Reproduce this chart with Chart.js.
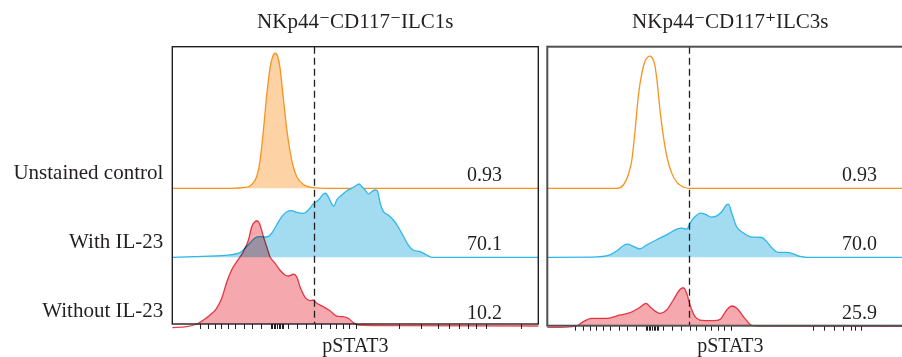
<!DOCTYPE html>
<html>
<head>
<meta charset="utf-8">
<script src="https://cdn.jsdelivr.net/npm/chart.js@4.4.1/dist/chart.umd.min.js"></script>
<style>
  html, body { margin: 0; padding: 0; background: #fff; }
  body { width: 902px; height: 357px; overflow: hidden; position: relative; }
  #ilc1 { position: absolute; left: 0; top: 0; }
  #ilc3 { position: absolute; left: 540px; top: 0; }
</style>
</head>
<body>
<canvas id="ilc1" width="545" height="357"></canvas>
<canvas id="ilc3" width="380" height="357"></canvas>
<script>
// Rows, bottom to top
const rowLabels = ['Without IL-23', 'With IL-23', 'Unstained control'];
const panelTitles = ['NKp44\u207BCD117\u207BILC1s', 'NKp44\u207BCD117\u207AILC3s'];
const axisTitle = 'pSTAT3';

// Positive gate (display channel) and % of cells above it, per row
const gatePositions = [388, 386];
const ilc1Percent = ['10.2', '70.1', '0.93'];
const ilc3Percent = ['25.9', '70.0', '0.93'];

// Logicle tick marks (display channel, 0-1000)
const ilc1Ticks = [78, 98, 117, 135, 153, 173, 196, 219, 244, 270, 275, 279, 283, 287, 292, 296, 300, 305,
  317, 343, 367, 390, 408, 431, 449, 467, 484, 504, 620, 681, 727, 757, 786, 809, 830, 859, 955];
const ilc3Ticks = [78, 98, 117, 135, 153, 173, 196, 219, 244, 270, 275, 279, 283, 287, 292, 296, 300, 305,
  317, 343, 367, 390, 408, 431, 449, 467, 484, 504, 727, 757, 786, 809, 830, 843, 859];

// Histograms: [display channel, normalised density]
const ilc1Unstained = [[0,0],[157,0],[199,0.012],[212,0.033],[221,0.077],[231,0.178],[240,0.41],[249,0.845],
  [258,1.352],[267,1.743],[274,1.903],[281,1.957],[288,1.91],[294,1.755],[303,1.323],[313,0.846],[322,0.526],
  [330,0.323],[340,0.168],[358,0.055],[385,0.009],[420,0],[1000,0]];
const ilc1WithIL23 = [[0,0],[57,0.009],[149,0.033],[185,0.067],[199,0.135],[212,0.207],[226,0.28],[240,0.299],
  [258,0.294],[272,0.352],[285,0.468],[299,0.588],[313,0.661],[326,0.675],[340,0.652],[358,0.638],[372,0.686],
  [385,0.772],[399,0.83],[413,0.917],[419,0.928],[426,0.878],[436,0.772],[442,0.743],[449,0.83],[463,0.903],
  [477,0.965],[490,1.0],[504,1.048],[510,1.062],[518,1.023],[527,0.975],[536,0.917],[545,0.951],[554,0.975],
  [560,0.965],[568,0.783],[577,0.661],[590,0.613],[604,0.541],[617,0.443],[631,0.309],[645,0.178],[658,0.106],
  [677,0.081],[695,0.033],[709,0],[1000,0]];
const ilc1WithoutIL23 = [[0,-0.02],[39,-0.006],[67,0.033],[85,0.091],[103,0.164],[121,0.261],[135,0.406],
  [149,0.646],[162,0.816],[176,0.936],[194,1.081],[208,1.251],[217,1.443],[226,1.516],[231,1.53],[238,1.493],
  [249,1.299],[258,1.154],[267,1.009],[281,0.913],[294,0.816],[308,0.743],[317,0.729],[331,0.754],[340,0.719],
  [349,0.574],[363,0.42],[376,0.371],[385,0.381],[395,0.333],[413,0.284],[431,0.226],[449,0.149],[467,0.139],
  [481,0.116],[495,0.052],[508,0.019],[604,0.009],[1000,0.004]];

const ilc3Unstained = [[0,0],[190,0],[208,0.048],[221,0.193],[231,0.41],[240,0.845],[249,1.352],[258,1.66],
  [267,1.84],[275,1.905],[281,1.917],[287,1.89],[294,1.78],[301,1.5],[308,1.13],[317,0.76],[327,0.45],
  [340,0.22],[354,0.085],[371,0.019],[390,0],[1000,0]];
const ilc3WithIL23 = [[0,0],[117,0.003],[171,0.036],[194,0.109],[208,0.171],[220,0.191],[235,0.157],[253,0.123],
  [272,0.181],[299,0.254],[326,0.326],[354,0.409],[367,0.423],[381,0.409],[390,0.496],[404,0.591],[419,0.641],
  [431,0.626],[449,0.583],[463,0.601],[477,0.664],[490,0.761],[495,0.771],[504,0.641],[517,0.446],[536,0.351],
  [558,0.293],[586,0.287],[599,0.229],[617,0.119],[631,0.07],[654,0.07],[672,0.051],[690,0.012],[709,0],[1000,0]];
const ilc3WithoutIL23 = [[0,-0.017],[80,0.004],[98,0.067],[121,0.116],[162,0.116],[199,0.164],[226,0.197],
  [249,0.261],[270,0.333],[285,0.261],[308,0.188],[326,0.236],[344,0.381],[363,0.536],[372,0.559],[381,0.478],
  [390,0.309],[404,0.139],[417,0.091],[454,0.081],[472,0.101],[490,0.236],[504,0.294],[518,0.261],[536,0.139],
  [558,0.014],[572,0.004],[1000,0]];

const FONT = "'Liberation Serif', 'DejaVu Serif', serif";
const INK = '#231f20';
const COLORS = {
  red:    { line: '#e8424f', fill: '#f5a8ad' },
  blue:   { line: '#2fb7e9', fill: '#a3dbf1' },
  orange: { line: '#f7931e', fill: '#fdd3a5' }
};

// Red histogram is multiplied onto the ones above it, so overlaps darken
const multiplyLowest = {
  id: 'multiplyLowest',
  afterDatasetDraw(chart, args) {
    if (args.index === 1) chart.ctx.globalCompositeOperation = 'multiply';
    if (args.index === 0) chart.ctx.globalCompositeOperation = 'source-over';
  }
};

// Gate line, percentages and the frame
const decorations = {
  id: 'decorations',
  afterDatasetsDraw(chart, args, opts) {
    const { ctx, chartArea: a, scales: { x, y } } = chart;
    ctx.save();
    ctx.globalCompositeOperation = 'source-over';
    const gx = Math.round(x.getPixelForValue(opts.gate)) + 0.5;
    ctx.strokeStyle = INK;
    ctx.lineWidth = 1.3;
    ctx.setLineDash([7, 4]);
    ctx.beginPath();
    ctx.moveTo(gx, a.top);
    ctx.lineTo(gx, a.bottom);
    ctx.stroke();
    ctx.setLineDash([]);

    ctx.fillStyle = INK;
    ctx.font = '20px ' + FONT;
    ctx.textAlign = 'right';
    ctx.textBaseline = 'alphabetic';
    opts.percents.forEach((t, row) => {
      ctx.fillText(t, x.getPixelForValue(901), y.getPixelForValue(row + 0.1));
    });

    ctx.strokeStyle = opts.frameColor;
    ctx.lineWidth = opts.frameWidth;
    ctx.strokeRect(a.left, a.top, a.right - a.left, a.bottom - a.top);
    ctx.restore();
  }
};

function buildPanel(id, cfg) {
  const series = [
    { points: cfg.without, row: 0, c: COLORS.red,    filled: true },
    { points: cfg.withIL,  row: 1, c: COLORS.blue,   filled: true },
    { points: cfg.unstained, row: 2, c: COLORS.orange, filled: cfg.fillUnstained }
  ];
  const datasets = series.map(s => ({
    data: s.points.map(p => ({ x: p[0], y: s.row + p[1] })),
    borderColor: s.c.line,
    backgroundColor: s.filled ? s.c.fill : 'rgba(0,0,0,0)',
    fill: s.filled ? { value: s.row } : false,
    borderWidth: 1.3,
    pointRadius: 0,
    cubicInterpolationMode: 'monotone',
    clip: false
  }));

  return new Chart(document.getElementById(id), {
    type: 'line',
    data: { datasets },
    options: {
      responsive: false,
      animation: false,
      events: [],
      layout: { padding: { left: cfg.padLeft, right: cfg.padRight, top: 0, bottom: 0 } },
      plugins: {
        legend: { display: false },
        tooltip: { enabled: false },
        title: {
          display: true,
          text: cfg.title,
          fullSize: false,
          align: 'center',
          color: INK,
          font: { family: FONT, size: 21, weight: 'normal', lineHeight: 1.2 },
          padding: { top: 10.3, bottom: 11.2 }
        },
        decorations: {
          gate: cfg.gate,
          percents: cfg.percents,
          frameColor: cfg.frameColor,
          frameWidth: cfg.frameWidth
        }
      },
      scales: {
        x: {
          type: 'linear',
          min: 0,
          max: 1000,
          afterBuildTicks: s => { s.ticks = cfg.ticks.map(v => ({ value: v })); },
          afterFit: s => { s.height = cfg.axisHeight; },
          ticks: { display: false, autoSkip: false },
          grid: { display: true, drawOnChartArea: false, drawTicks: true, tickLength: 5, color: INK, lineWidth: 1 },
          border: { display: false },
          title: {
            display: true,
            text: axisTitle,
            color: INK,
            font: { family: FONT, size: 20, lineHeight: 1 },
            padding: { top: 0, bottom: 0.6 }
          }
        },
        y: {
          type: 'linear',
          display: cfg.showRows,
          min: cfg.yMin,
          max: 4.0522,
          afterFit: s => { s.width = cfg.showRows ? 172.3 : 0; },
          afterBuildTicks: s => { s.ticks = rowLabels.map((_, i) => ({ value: i + 0.22 })); },
          grid: { display: false, drawTicks: false },
          border: { display: false },
          ticks: {
            autoSkip: false,
            padding: 9,
            color: INK,
            font: { family: FONT, size: 21 },
            callback: (v, i) => rowLabels[i]
          }
        }
      }
    },
    plugins: [multiplyLowest, decorations]
  });
}

buildPanel('ilc1', {
  title: panelTitles[0], unstained: ilc1Unstained, withIL: ilc1WithIL23, without: ilc1WithoutIL23,
  fillUnstained: true, ticks: ilc1Ticks, gate: gatePositions[0], percents: ilc1Percent,
  showRows: true, padLeft: 0, padRight: 6.7, axisHeight: 33, yMin: 0.0333,
  frameColor: INK, frameWidth: 1.4
});
buildPanel('ilc3', {
  title: panelTitles[1], unstained: ilc3Unstained, withIL: ilc3WithIL23, without: ilc3WithoutIL23,
  fillUnstained: false, ticks: ilc3Ticks, gate: gatePositions[1], percents: ilc3Percent,
  showRows: false, padLeft: 7.3, padRight: 6.7, axisHeight: 31.3, yMin: 0.0087,
  frameColor: '#505050', frameWidth: 2
});
</script>
</body>
</html>
